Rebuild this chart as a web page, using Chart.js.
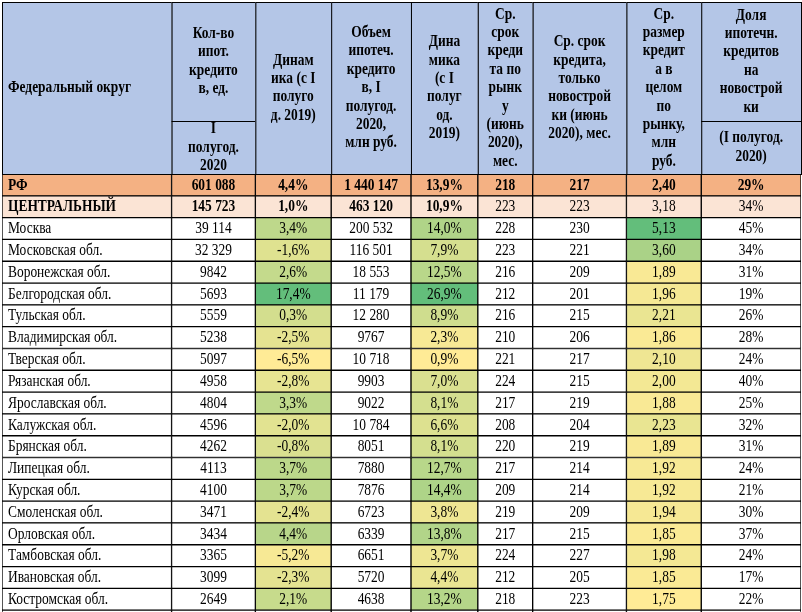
<!DOCTYPE html>
<html>
<head>
<meta charset="utf-8">
<script src="https://cdn.jsdelivr.net/npm/chart.js@4.4.1/dist/chart.umd.min.js"></script>
<style>
  html, body { margin: 0; padding: 0; background: #fff; overflow: hidden; }
  #wrap { width: 802px; height: 632px; }
</style>
</head>
<body>
<div id="wrap"><canvas id="tbl"></canvas></div>
<script>
// Table data
const regions = ["РФ", "ЦЕНТРАЛЬНЫЙ", "Москва", "Московская обл.", "Воронежская обл.", "Белгородская обл.",
  "Тульская обл.", "Владимирская обл.", "Тверская обл.", "Рязанская обл.", "Ярославская обл.", "Калужская обл.",
  "Брянская обл.", "Липецкая обл.", "Курская обл.", "Смоленская обл.", "Орловская обл.", "Тамбовская обл.",
  "Ивановская обл.", "Костромская обл.", ""];
const loanCount = [601088, 145723, 39114, 32329, 9842, 5693, 5559, 5238, 5097, 4958, 4804, 4596, 4262, 4113, 4100, 3471, 3434, 3365, 3099, 2649, null];
const countDyn = [4.4, 1.0, 3.4, -1.6, 2.6, 17.4, 0.3, -2.5, -6.5, -2.8, 3.3, -2.0, -0.8, 3.7, 3.7, -2.4, 4.4, -5.2, -2.3, 2.1, null];
const loanVolume = [1440147, 463120, 200532, 116501, 18553, 11179, 12280, 9767, 10718, 9903, 9022, 10784, 8051, 7880, 7876, 6723, 6339, 6651, 5720, 4638, null];
const volumeDyn = [13.9, 10.9, 14.0, 7.9, 12.5, 26.9, 8.9, 2.3, 0.9, 7.0, 8.1, 6.6, 8.1, 12.7, 14.4, 3.8, 13.8, 3.7, 4.4, 13.2, null];
const termMarket = [218, 223, 228, 223, 216, 212, 216, 210, 221, 224, 217, 208, 220, 217, 209, 219, 217, 224, 212, 218, null];
const termNew = [217, 223, 230, 221, 209, 201, 215, 206, 217, 215, 219, 204, 219, 214, 214, 209, 215, 227, 205, 223, null];
const avgSize = [2.40, 3.18, 5.13, 3.60, 1.89, 1.96, 2.21, 1.86, 2.10, 2.00, 1.88, 2.23, 1.89, 1.92, 1.92, 1.94, 1.85, 1.98, 1.85, 1.75, null];
const shareNew = [29, 34, 45, 34, 31, 19, 26, 28, 24, 40, 25, 32, 31, 24, 21, 30, 37, 24, 17, 22, null];

const headers = [
  ["Федеральный округ"],
  ["Кол-во", "ипот.", "кредито", "в, ед."],
  ["Динам", "ика (с I", "полуго", "д. 2019)"],
  ["Объем", "ипотеч.", "кредито", "в, I", "полугод.", "2020,", "млн руб."],
  ["Дина", "мика", "(с I", "полуг", "од.", "2019)"],
  ["Ср.", "срок", "креди", "та по", "рынк", "у", "(июнь", "2020),", "мес."],
  ["Ср. срок", "кредита,", "только", "новострой", "ки (июнь", "2020), мес."],
  ["Ср.", "размер", "кредит", "а в", "целом", "по", "рынку,", "млн", "руб."],
  ["Доля", "ипотечн.", "кредитов", "на", "новострой", "ки"]
];
const subHeaders = { 1: ["I", "полугод.", "2020"], 8: ["(I полугод.", "2020)"] };

// layout
const colWidths = [170, 84, 76, 80, 67, 55, 94, 75, 100];
const HEADER_H = 174, SUB_Y = 121;

const fmtInt = v => v >= 10000 ? String(v).replace(/\B(?=(\d{3})+(?!\d))/g, " ") : String(v);
const fmtPct = v => v.toFixed(1).replace(".", ",") + "%";
const columns = [
  regions,
  loanCount.map(v => v == null ? "" : fmtInt(v)),
  countDyn.map(v => v == null ? "" : fmtPct(v)),
  loanVolume.map(v => v == null ? "" : fmtInt(v)),
  volumeDyn.map(v => v == null ? "" : fmtPct(v)),
  termMarket.map(v => v == null ? "" : String(v)),
  termNew.map(v => v == null ? "" : String(v)),
  avgSize.map(v => v == null ? "" : v.toFixed(2).replace(".", ",")),
  shareNew.map(v => v == null ? "" : v + "%")
];

function scaleColor(val, arr) {
  const vals = arr.slice(2).filter(v => v != null);
  const lo = Math.min(...vals), hi = Math.max(...vals);
  const t = (val - lo) / (hi - lo);
  const a = [255, 235, 150], b = [99, 190, 123];
  const c = a.map((x, i) => Math.round(x + (b[i] - x) * t));
  return `rgb(${c[0]},${c[1]},${c[2]})`;
}
const scaled = { 2: countDyn, 4: volumeDyn, 7: avgSize };

function cellColor(col, row) {
  if (row === 0) return "#F4B183";
  if (row === 1) return "#FBE4D5";
  if (scaled[col] && scaled[col][row] != null) return scaleColor(scaled[col][row], scaled[col]);
  return "#ffffff";
}

function drawText(ctx, text, x, y, align) {
  ctx.save();
  ctx.translate(x, y);
  ctx.scale(0.84, 1);
  ctx.textAlign = align;
  ctx.fillText(text, 0, 0);
  ctx.restore();
}

const tablePlugin = {
  id: "tableText",
  afterDatasetsDraw(chart) {
    const ctx = chart.ctx;
    const top = 2, bottom = chart.chartArea.top;
    ctx.save();
    ctx.textBaseline = "middle";
    chart.data.datasets.forEach((ds, c) => {
      const bars = chart.getDatasetMeta(c).data;
      const x0 = bars[0].base, x1 = bars[0].x;
      // header cell
      ctx.fillStyle = "#B4C6E7";
      ctx.fillRect(x0, top, x1 - x0, bottom - top);
      ctx.strokeStyle = "#000";
      ctx.lineWidth = 1;
      ctx.strokeRect(x0 + 0.5, top + 0.5, x1 - x0, bottom - top);
      ctx.fillStyle = "#000";
      ctx.font = "bold 16px 'Liberation Serif'";
      const lines = headers[c];
      const lh = 18.4;
      const sub = subHeaders[c];
      const hBottom = sub ? SUB_Y : bottom;
      const cy = (top + hBottom) / 2 - (lines.length - 1) * lh / 2;
      lines.forEach((l, i) => {
        if (c === 0) drawText(ctx, l, x0 + 6, cy + i * lh, "left");
        else drawText(ctx, l, (x0 + x1) / 2, cy + i * lh, "center");
      });
      if (sub) {
        ctx.beginPath();
        ctx.moveTo(x0, SUB_Y + 0.5);
        ctx.lineTo(x1, SUB_Y + 0.5);
        ctx.stroke();
        const sy = (SUB_Y + bottom) / 2 - (sub.length - 1) * lh / 2;
        sub.forEach((l, i) => drawText(ctx, l, (x0 + x1) / 2, sy + i * lh, "center"));
      }
      // body cells
      bars.forEach((bar, r) => {
        const txt = columns[c][r];
        if (!txt) return;
        const bold = r === 0 || (r === 1 && c <= 4);
        ctx.font = (bold ? "bold " : "") + "16px 'Liberation Serif'";
        if (c === 0) drawText(ctx, txt, bar.base + 6, bar.y + 0.5, "left");
        else drawText(ctx, txt, (bar.base + bar.x) / 2, bar.y + 0.5, "center");
      });
    });
    ctx.restore();
  }
};

new Chart(document.getElementById("tbl"), {
  type: "bar",
  data: {
    labels: regions,
    datasets: colWidths.map((w, c) => ({
      data: regions.map(() => w),
      backgroundColor: ctx => cellColor(c, ctx.dataIndex),
      borderColor: "#000",
      borderWidth: 1,
      borderSkipped: false,
      barPercentage: 1,
      categoryPercentage: 1
    }))
  },
  options: {
    indexAxis: "y",
    responsive: true,
    maintainAspectRatio: false,
    animation: false,
    layout: { padding: { top: HEADER_H, left: 2, right: 1, bottom: 0 } },
    plugins: { legend: { display: false }, tooltip: { enabled: false } },
    scales: {
      x: { stacked: true, display: false, min: 0, max: colWidths.reduce((a, b) => a + b, 0) },
      y: { stacked: true, display: false }
    }
  },
  plugins: [tablePlugin]
});
</script>
</body>
</html>
